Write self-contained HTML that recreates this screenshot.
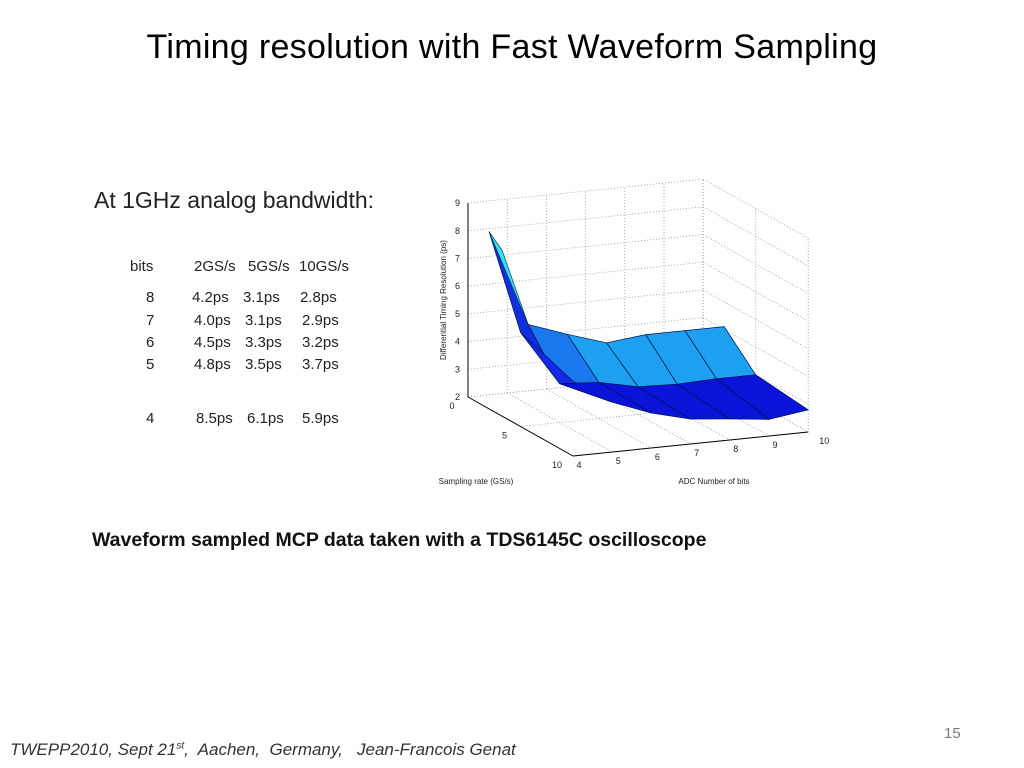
<!DOCTYPE html>
<html><head><meta charset="utf-8"><style>
body{margin:0;width:1024px;height:768px;background:#fff;position:relative;overflow:hidden;font-family:"Liberation Sans",sans-serif}
.t{position:absolute;white-space:nowrap;color:#000}
.tb span{position:absolute;font-size:15px;color:#222}
</style></head><body>
<div class="t" style="left:0;width:1024px;text-align:center;top:28px;font-size:34px;letter-spacing:0.3px">Timing resolution with Fast Waveform Sampling</div>
<div class="t" style="left:94px;top:187px;font-size:23px;color:#222">At 1GHz analog bandwidth:</div>
<div class="tb">
<span style="left:130px;top:258px">bits</span><span style="left:194px;top:258px">2GS/s</span><span style="left:248px;top:258px">5GS/s</span><span style="left:299px;top:258px">10GS/s</span>
<span style="left:146px;top:289px">8</span><span style="left:192px;top:289px">4.2ps</span><span style="left:243px;top:289px">3.1ps</span><span style="left:300px;top:289px">2.8ps</span>
<span style="left:146px;top:312px">7</span><span style="left:194px;top:312px">4.0ps</span><span style="left:245px;top:312px">3.1ps</span><span style="left:302px;top:312px">2.9ps</span>
<span style="left:146px;top:334px">6</span><span style="left:194px;top:334px">4.5ps</span><span style="left:245px;top:334px">3.3ps</span><span style="left:302px;top:334px">3.2ps</span>
<span style="left:146px;top:356px">5</span><span style="left:194px;top:356px">4.8ps</span><span style="left:245px;top:356px">3.5ps</span><span style="left:302px;top:356px">3.7ps</span>
<span style="left:146px;top:410px">4</span><span style="left:196px;top:410px">8.5ps</span><span style="left:247px;top:410px">6.1ps</span><span style="left:302px;top:410px">5.9ps</span>
</div>
<svg id="chart" width="1024" height="768" style="position:absolute;left:0;top:0" font-family="Liberation Sans, sans-serif"></svg>
<div class="t" style="left:92px;top:529px;font-size:19.5px;font-weight:bold;color:#111">Waveform sampled MCP data taken with a TDS6145C oscilloscope</div>
<div class="t" style="left:944px;top:725px;font-size:15px;color:#777">15</div>
<div class="t" style="left:10px;top:740px;font-size:17px;font-style:italic;color:#333">TWEPP2010, Sept 21<sup style="font-size:10px">st</sup>,&nbsp; Aachen,&nbsp; Germany,&nbsp;&nbsp; Jean-Francois Genat</div>
<script>
const bits=[4,5,6,7,8,9,10];
const rates=[2,5,10];
const zRate2=[8.4,4.9,4.4,3.95,4.1,4.1,4.1];
const zRate5=[5.4,3.4,3.3,3.0,2.95,3.0,3.0];
const zRate10=[4.7,3.8,3.26,2.9,2.76,2.6,2.8];
const zTicks=[2,3,4,5,6,7,8,9];
const rateTicks=[0,5,10];
const bitTicks=[4,5,6,7,8,9,10];
const Z=[zRate2,zRate5,zRate10];
const NS="http://www.w3.org/2000/svg";
const svg=document.getElementById('chart');
function P(b,r,z){return [468+(b-4)*39.2+r*10.5, 397-(b-4)*4+r*5.9-(z-2)*27.7];}
function el(t,a){const e=document.createElementNS(NS,t);for(const k in a)e.setAttribute(k,a[k]);svg.appendChild(e);return e;}
function line(p,q,dot,nm){const e=el('line',{x1:p[0],y1:p[1],x2:q[0],y2:q[1],stroke:dot?'#999':'#000','stroke-width':dot?0.8:1,'stroke-dasharray':dot?'1,2':''});

}
bitTicks.forEach(b=>line(P(b,0,2),P(b,0,9),true,'grid-line'));
zTicks.forEach(z=>{line(P(4,0,z),P(10,0,z),true,'grid-line');line(P(10,0,z),P(10,10,z),true,'grid-line');});
rateTicks.forEach(r=>{line(P(10,r,2),P(10,r,9),true,'grid-line');line(P(4,r,2),P(10,r,2),true,'grid-line');});
bitTicks.forEach(b=>line(P(b,0,2),P(b,10,2),true,'grid-line'));
line(P(4,0,2),P(4,0,9),false,'z-axis');
line(P(4,0,2),P(4,10,2),false,'rate-axis');
line(P(4,10,2),P(10,10,2),false,'bits-axis');
function txt(s,x,y,nm,anchor){const e=el('text',{x:x,y:y,'font-size':9,fill:'#222','text-anchor':anchor||'middle'});e.textContent=s;

return e;}
zTicks.forEach(z=>{const p=P(4,0,z);txt(z,p[0]-8,p[1]+3,'z-tick-label','end');});
rateTicks.forEach(r=>{const p=P(4,r,2);txt(r,p[0]-16,p[1]+12,'rate-tick-label','middle');});
bitTicks.forEach(b=>{const p=P(b,10,2);txt(b,p[0]+(b==10?16:6),p[1]+12,'bits-tick-label','middle');});
const zl=txt('Differential Timing Resolution (ps)',446,300,'z-axis-title','middle');zl.setAttribute('font-size',8);zl.setAttribute('transform','rotate(-90 446 300)');
const rl=txt('Sampling rate (GS/s)',476,484,'rate-axis-title','middle');rl.setAttribute('font-size',8);
const bl=txt('ADC Number of bits',714,484,'bits-axis-title','middle');bl.setAttribute('font-size',8);
for(let i=0;i<rates.length-1;i++){
 for(let j=0;j<bits.length-1;j++){
  const pts=[P(bits[j],rates[i],Z[i][j]),P(bits[j+1],rates[i],Z[i][j+1]),P(bits[j+1],rates[i+1],Z[i+1][j+1]),P(bits[j],rates[i+1],Z[i+1][j])];
  let col;
  if(i===0){col=j===0?'#1030e0':(j===1?'#1a78ee':'#1ea0f0');}
  else{col=j===0?'#1428e8':'#0a14d8';}
  const e=el('polygon',{points:pts.map(p=>p.join(',')).join(' '),fill:col,stroke:'#001050','stroke-width':0.7});
  
  
 }
}
const c=[P(bits[0],rates[0],Z[0][0]),P(bits[1],rates[0],Z[0][1]),P(bits[0]+0.2,rates[0]+0.5,Z[0][0]-0.6)];
const cs=el('polygon',{points:c.map(p=>p.join(',')).join(' '),fill:'#30e0f0',stroke:'#003050','stroke-width':0.6});


</script>
</body></html>
